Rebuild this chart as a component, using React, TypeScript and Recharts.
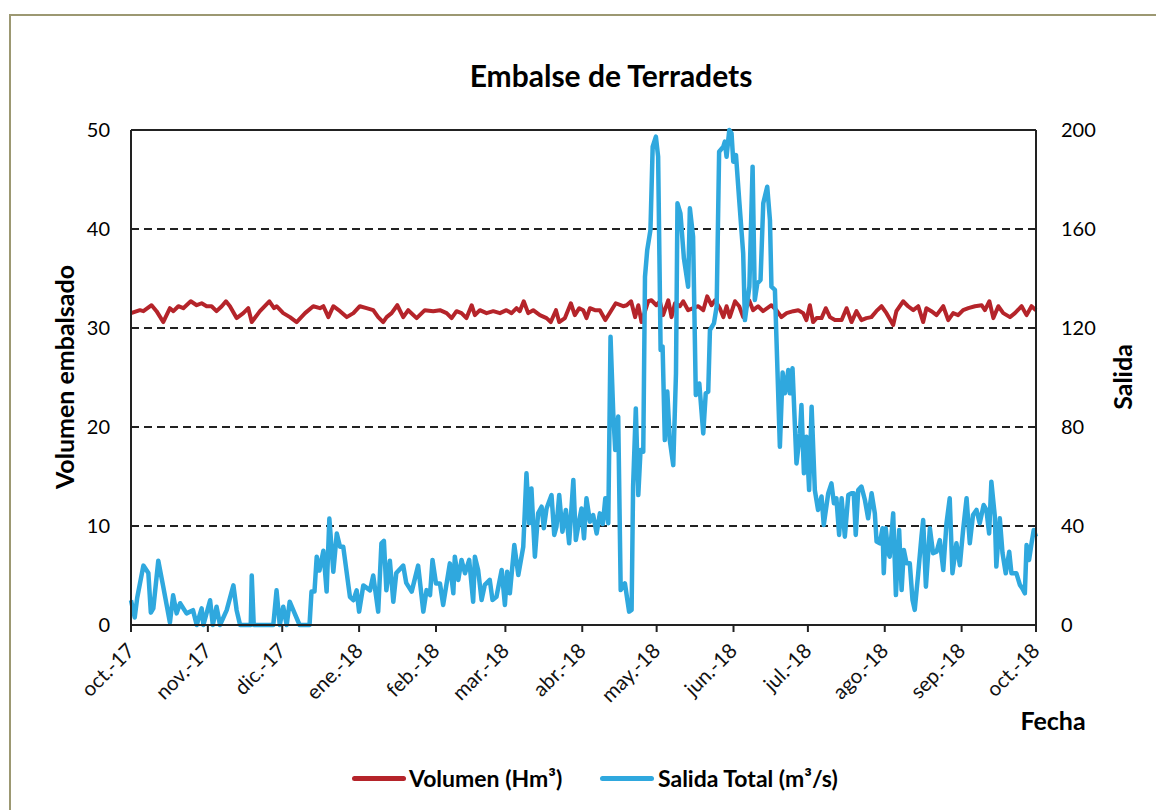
import { LineChart, Line, XAxis, YAxis, CartesianGrid, ReferenceLine } from 'recharts';

// Daily series (day 0 = 1 oct 2017)
const volDays = [
  0, 3.6, 5, 8.3, 10.3, 13, 15.7, 17.1, 19.1, 21.1, 24.1, 26.5, 28.5, 30.5, 32.5, 34.5, 36.6, 38.3, 39.9, 42.6,
  45.3, 47.3, 48.7, 52, 55.8, 57.7, 58.7, 61.4, 64.1, 66.8, 70.2, 73.5, 76.2, 77.6, 79.6, 81.6, 84.3, 87, 89.7, 92.3,
  95, 97.7, 99.7, 101.7, 103.1, 105.1, 107.4, 109.8, 111.8, 115.2, 118.5, 121.9, 124.6, 127.3, 129.3, 131.3, 133.3, 135.3, 137.4, 138.7,
  140.7, 143.4, 146.1, 148.8, 151.4, 153.5, 155.5, 156.8, 158.4, 160.2, 162.2, 164.9, 167.6, 169.3, 171.4, 172.7, 175, 177.4, 179, 180.8,
  182.4, 183.7, 185.1, 187.1, 189.1, 191.3, 193.5, 195.5, 198.5, 199.9, 201.7, 203.3, 204.6, 205.9, 208.6, 209.9, 211.9, 213.3, 214.6, 216.7,
  218, 219.4, 221.4, 222.7, 224.7, 226.8, 228.8, 230.8, 232.4, 234.1, 235.5, 237.5, 238.9, 240.2, 241.5, 243.6, 245.3, 246.9, 248.3, 249.3,
  250.9, 252.9, 254.9, 258.3, 260.3, 262.3, 264.4, 267.1, 269.1, 271.1, 272.4, 273.8, 275.1, 276.5, 278.5, 280.2, 281.9, 283.9, 286.6, 288.6,
  290.6, 292.6, 294.6, 296.6, 298.6, 300.6, 302.7, 304.7, 307.4, 308.7, 311.4, 313.4, 315.5, 317.5, 319.5, 320.8, 322.8, 324.9, 327.6, 329.6,
  331.6, 333.6, 335.6, 337.7, 340.4, 343.1, 344.4, 346.2, 347.8, 349.8, 351.8, 354.5, 356.5, 359.2, 361.2, 363.2, 365,
];
const volValues = [
  31.5, 31.8, 31.7, 32.3, 31.7, 30.6, 32.0, 31.7, 32.2, 32.0, 32.7, 32.3, 32.5, 32.2, 32.2, 31.7, 32.2, 32.7, 32.2, 31.0,
  31.5, 32.0, 30.6, 31.7, 32.7, 32.0, 32.2, 31.5, 31.1, 30.6, 31.5, 32.2, 32.0, 32.2, 31.1, 32.2, 31.7, 31.1, 31.5, 32.2,
  32.0, 31.8, 31.1, 30.6, 31.1, 31.5, 32.3, 31.1, 31.8, 31.0, 31.8, 31.7, 31.8, 31.5, 31.0, 31.7, 31.5, 31.0, 32.3, 31.3,
  31.8, 31.5, 31.7, 31.5, 31.8, 31.5, 32.0, 31.7, 32.7, 31.5, 31.8, 31.3, 31.0, 30.6, 31.8, 30.6, 31.0, 32.5, 31.3, 32.0,
  31.8, 31.0, 32.0, 31.8, 31.8, 30.8, 31.7, 32.5, 32.2, 32.3, 32.7, 31.1, 32.3, 30.6, 32.7, 32.8, 32.3, 32.7, 31.3, 32.8,
  31.1, 32.5, 32.2, 32.7, 31.8, 32.0, 32.2, 31.8, 33.2, 32.3, 32.8, 32.0, 31.1, 32.2, 31.1, 32.7, 32.2, 31.1, 32.2, 32.8,
  31.8, 32.2, 31.7, 32.3, 31.8, 31.1, 31.5, 31.7, 31.8, 31.5, 30.8, 32.3, 30.6, 31.0, 31.0, 32.0, 31.1, 30.8, 30.8, 32.0,
  30.6, 31.7, 30.8, 31.0, 31.1, 31.7, 32.2, 31.5, 30.3, 31.7, 32.7, 32.2, 31.8, 32.2, 30.6, 32.0, 31.7, 31.3, 32.2, 30.8,
  31.5, 31.3, 31.8, 32.0, 32.2, 32.3, 31.8, 32.7, 31.0, 32.2, 31.5, 31.1, 31.5, 32.2, 31.3, 32.2, 31.8,
];

const salDays = [
  0, 1.5, 2.5, 5, 7, 8, 9, 11, 13, 15.7, 17, 18.4, 19.8, 22.4, 25, 26.5, 28.5, 29.2, 31.9, 33,
  34.5, 35.9, 38.6, 41.3, 42.6, 44, 48.3, 48.7, 49.5, 57.4, 58.7, 60, 61.4, 62.8, 64, 66, 68, 72, 72.8, 74,
  74.9, 76, 77.6, 78.9, 80, 81.6, 83, 84.3, 85.6, 88.3, 89.7, 91, 92, 93.7, 96.4, 97.7, 99.7, 101, 102, 103,
  104.4, 105.8, 107, 109.8, 111, 113.2, 115.8, 117.9, 119.2, 120.6, 121.6, 123, 124.6, 125.9, 128.6, 130, 130.6, 132, 133.3, 134.7,
  136.4, 138, 138.7, 140, 141.4, 142.7, 144.7, 145.8, 147.4, 149.5, 150.8, 151.7, 152.8, 154.6, 156.2, 158.2, 159.5, 160.6, 161.5, 162.9,
  164.2, 165.6, 166.5, 167.6, 169.6, 170.7, 171.6, 172.7, 174, 175.4, 176.7, 178.4, 179.4, 180.8, 181.7, 182.7, 183.7, 185.1, 186.4, 187.8,
  189.1, 190.3, 191.3, 192.5, 193.4, 194.5, 195.3, 196.5, 197.5, 199.2, 200.9, 201.9, 202.5, 203.6, 204.6, 205.5, 206.6, 207.3, 208.2, 209.5,
  210.4, 211.7, 212.6, 213.6, 214.4, 215.3, 216.3, 217.3, 218.7, 219.8, 220.4, 221.6, 223, 224.7, 225.4, 226.7, 227.8, 229.2, 230.8, 231.8,
  232.8, 233.5, 235.1, 236.2, 237.2, 238.9, 239.5, 240.2, 241.3, 242.2, 242.9, 244, 245.3, 246.9, 247.6, 249.4, 250.7, 251.6, 252.6, 253.9,
  255, 256.6, 257.7, 258.3, 259.7, 261.7, 262.8, 263.7, 264.4, 265.1, 265.7, 266.8, 268.4, 269.8, 270.4, 271.4, 272.4, 273.5, 274.5, 275.8,
  277.1, 278.5, 279.4, 281.2, 282.5, 283.5, 284.5, 285.6, 286.6, 287.9, 289.3, 290.6, 291.5, 292.3, 293.3, 294.6, 296, 297.3, 298.7, 300,
  300.7, 302, 303.1, 303.6, 304.4, 305.4, 306, 307.4, 308.5, 309.8, 310.8, 311.7, 312.8, 314.1, 315.2, 316.1, 317.5, 318.8, 319.5, 320.6,
  322.2, 323.5, 324.9, 326.2, 327.6, 328.9, 330.2, 331.3, 332.9, 334.3, 335.6, 337, 338.3, 339.6, 341, 342.3, 343.9, 345, 346.1, 347,
  348.4, 349, 350.4, 351.5, 352.8, 354.2, 355.1, 357.1, 358.5, 359.5, 360.5, 361.2, 362.2, 363.2, 364.1, 365,
];
const salValues = [
  10, 3, 11, 24, 21, 5, 6.7, 26, 15.5, 1, 12, 4.7, 8.8, 4.7, 6, 0, 6.7, 0, 10, 0,
  7.4, 0, 6, 16, 6, 0, 0, 20, 0, 0, 14, 0, 7.4, 0, 9.4, 4.7, 0, 0, 13.5, 13.5,
  27.6, 22, 30, 13.5, 43, 21.5, 37, 31.6, 31.6, 11.4, 10, 14, 5.4, 16, 14, 20, 5.4, 33, 34, 14,
  26, 9.4, 21, 24, 17, 13.5, 24, 5.4, 14.1, 12.1, 26.3, 16.8, 16.8, 8.1, 24.9, 12.8, 27.6, 18.2, 26.3, 20.9,
  26.3, 9.4, 27.6, 22.2, 10.1, 16.2, 18.2, 10.1, 11.4, 22.2, 8.1, 21.5, 12.8, 32.3, 20.2, 31.6, 61.3, 41.1, 55.2, 27.6,
  45.1, 47.8, 39.1, 47.1, 52.5, 36.4, 39.7, 52.5, 37.7, 46.5, 33, 58.6, 34.3, 42.4, 47.1, 35, 51.2, 41.7, 44.4, 37,
  45.1, 40.8, 51.2, 41.1, 116.5, 85.5, 70.7, 84.2, 14.1, 16.8, 5.4, 6.1, 55.9, 87.5, 52.5, 70.7, 70, 140.7, 151.5, 159.6,
  193.3, 197.3, 189.2, 111.1, 112.5, 74.7, 94.3, 74.7, 64.6, 101.7, 170.4, 166.3, 148.1, 136.7, 168.4, 156.9, 92.9, 97.6, 77.4, 93.6,
  94.3, 119.2, 121.9, 128.6, 191.2, 193.3, 195.3, 189.2, 200, 198.7, 187.2, 189.9, 171.7, 150.2, 123.2, 136.7, 185.2, 131.3, 138, 139.4,
  170.4, 177.1, 163.6, 136.7, 135.4, 72, 102, 93.6, 98, 103, 93.6, 103.7, 65.3, 77.4, 88.9, 61.3, 76.1, 54.5, 88.2, 54.5,
  46.5, 51.9, 40.4, 53.2, 57.2, 49.2, 51.2, 36.4, 51.2, 35.7, 52.5, 53.2, 53.2, 36.4, 54.5, 55.9, 50.5, 43.1, 53.2, 45.1,
  33.7, 33, 39.1, 20.9, 39.1, 29, 27.6, 45.1, 12.1, 38.4, 14.1, 30.3, 24.9, 24.9, 10.1, 6.1, 20.9, 35.7, 42.4, 15.5,
  39.1, 29, 29.6, 34.3, 22.2, 41.1, 51.2, 20.9, 33, 24.2, 38.4, 51.2, 33, 44.4, 46.5, 41.1, 48.5, 46.5, 37, 57.9,
  43.8, 23.6, 43.1, 29, 20.9, 29.6, 20.9, 20.9, 16.2, 14.8, 12.8, 32.3, 26.3, 33, 38.4, 35.7,
];

const monthTicks = [0, 31, 61, 92, 123, 151, 182, 212, 243, 273, 304, 335, 365];
const monthLabels = [
  'oct.-17', 'nov.-17', 'dic.-17', 'ene.-18', 'feb.-18', 'mar.-18', 'abr.-18',
  'may.-18', 'jun.-18', 'jul.-18', 'ago.-18', 'sep.-18', 'oct.-18',
];
const volTicks = [0, 10, 20, 30, 40, 50];
const salTicks = [0, 40, 80, 120, 160, 200];

const volData = volDays.map((d, i) => ({ d, v: volValues[i] }));
const salData = salDays.map((d, i) => ({ d, v: salValues[i] }));

const RED = '#b5242a';
const BLUE = '#2fa8de';
const INK = '#222';

function MonthTick({ x, y, payload }: any) {
  const label = monthLabels[monthTicks.indexOf(payload.value)];
  const tx = x + 5;
  const ty = y + 18;
  return (
    <text x={tx} y={ty} transform={`rotate(-45 ${tx} ${ty})`} textAnchor="end"
      fill="#111" fontSize={20.5} fontFamily="Lato">
      {label}
    </text>
  );
}

export default function App() {
  return (
    <div style={styles.wrap}>
      <div style={styles.frame} />
      <LineChart width={1156} height={802} data={volData}
        margin={{ top: 122, right: 0, bottom: 0, left: 0 }}>
        <CartesianGrid yAxisId="left" vertical={false} stroke={INK} strokeWidth={2} strokeDasharray="8 5" />
        <XAxis type="number" dataKey="d" domain={[0, 365]} ticks={monthTicks} interval={0}
          height={185} tickSize={7} tick={<MonthTick />}
          axisLine={{ stroke: INK, strokeWidth: 2 }} tickLine={{ stroke: INK, strokeWidth: 2 }} />
        <YAxis yAxisId="left" orientation="left" domain={[0, 50]} ticks={volTicks} width={123}
          tickSize={19} tickLine={false} axisLine={{ stroke: INK, strokeWidth: 2 }}
          tick={{ fill: '#000', fontSize: 20, fontFamily: 'Lato' }} />
        <YAxis yAxisId="right" orientation="right" domain={[0, 200]} ticks={salTicks} width={128}
          tickSize={23} tickLine={false} axisLine={{ stroke: INK, strokeWidth: 2 }}
          tick={{ fill: '#000', fontSize: 20, fontFamily: 'Lato', textAnchor: 'start' }} />
        <ReferenceLine yAxisId="left" y={50} stroke={INK} strokeWidth={2} />
        <Line yAxisId="left" data={volData} dataKey="v" type="linear" stroke={RED} strokeWidth={4}
          dot={false} isAnimationActive={false} strokeLinejoin="round" />
        <Line yAxisId="right" data={salData} dataKey="v" type="linear" stroke={BLUE} strokeWidth={4.5}
          dot={false} isAnimationActive={false} strokeLinejoin="round" />
      </LineChart>

      <div style={{ ...styles.title }}>Embalse de Terradets</div>
      <div style={{ ...styles.axisTitle, left: 56, top: 369, transform: 'translate(-50%, -50%) rotate(-90deg)' }}>
        Volumen embalsado
      </div>
      <div style={{ ...styles.axisTitle, left: 1114, top: 369, transform: 'translate(-50%, -50%) rotate(-90deg)' }}>
        Salida
      </div>
      <div style={{ ...styles.axisTitle, left: 1045, top: 712, transform: 'translate(-50%, -50%)' }}>Fecha</div>

      <div style={{ ...styles.legendLine, left: 344, background: RED }} />
      <div style={{ ...styles.legendText, left: 401 }}>Volumen (Hm³)</div>
      <div style={{ ...styles.legendLine, left: 592, background: BLUE }} />
      <div style={{ ...styles.legendText, left: 650 }}>Salida Total (m³/s)</div>
    </div>
  );
}

const styles: Record<string, React.CSSProperties> = {
  wrap: { position: 'relative', width: 1156, height: 802, overflow: 'hidden', fontFamily: 'Lato', background: '#fff' },
  frame: { position: 'absolute', left: 1, top: 6, width: 1300, height: 1000, border: '2px solid #9c9872' },
  title: {
    position: 'absolute', left: 603, top: 67, transform: 'translate(-50%, -50%)',
    fontSize: 30, fontWeight: 700, whiteSpace: 'nowrap', lineHeight: 1, color: '#000',
  },
  axisTitle: { position: 'absolute', fontSize: 25, fontWeight: 700, whiteSpace: 'nowrap', lineHeight: 1, color: '#000' },
  legendLine: { position: 'absolute', top: 768, width: 54, height: 5, borderRadius: 2.5 },
  legendText: {
    position: 'absolute', top: 770, transform: 'translateY(-50%)',
    fontSize: 23, fontWeight: 700, whiteSpace: 'nowrap', lineHeight: 1, color: '#000',
  },
};
